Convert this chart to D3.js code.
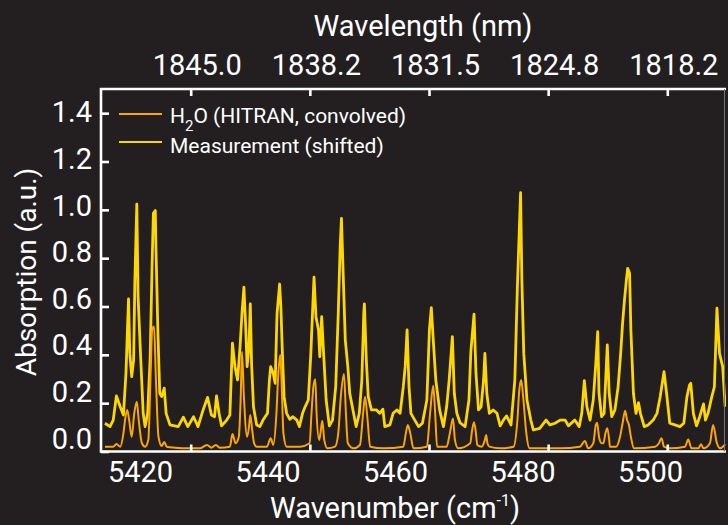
<!DOCTYPE html>
<html>
<head>
<meta charset="utf-8">
<script src="https://cdn.jsdelivr.net/npm/d3@7"></script>
<style>
  body { margin: 0; background: #231f20; }
  text { font-family: "Roboto", sans-serif; fill: #fff; }
</style>
</head>
<body>
<script>
// Measured spectrum (shifted), wavenumber in cm-1 and absorption in a.u.
var measWn = [
  5414.5,5415.3,5415.8,5416.3,5416.9,5417.4,5417.8,5418.2,5418.4,5418.7,
  5419.0,5419.2,5419.5,5419.7,5420.1,5420.5,5420.8,5421.2,5421.6,5421.9,
  5422.1,5422.4,5422.5,5422.8,5423.1,5423.4,5423.8,5424.1,5424.7,5426.0,
  5426.8,5427.5,5428.4,5429.1,5429.9,5430.6,5431.2,5431.7,5432.0,5432.4,
  5432.8,5433.6,5434.1,5434.5,5434.9,5435.3,5435.7,5436.0,5436.3,5436.6,
  5436.8,5437.1,5437.3,5437.5,5437.8,5438.3,5438.8,5439.3,5440.0,5440.3,
  5440.5,5440.9,5441.2,5441.5,5441.9,5442.1,5442.3,5442.6,5443.0,5443.5,
  5444.0,5444.6,5445.0,5445.5,5445.9,5446.4,5446.8,5447.1,5447.3,5447.6,
  5448.0,5448.2,5448.5,5448.8,5449.2,5449.7,5450.2,5450.7,5451.1,5451.4,
  5451.6,5451.9,5452.2,5452.6,5452.9,5453.5,5453.9,5454.4,5454.8,5455.1,
  5455.2,5455.5,5455.8,5456.3,5457.1,5457.6,5458.1,5458.4,5459.2,5459.7,
  5460.3,5460.8,5461.3,5461.6,5461.9,5462.2,5462.5,5463.1,5463.7,5464.3,
  5465.0,5465.4,5465.7,5466.0,5466.4,5467.0,5467.6,5468.1,5468.5,5469.0,
  5469.3,5469.7,5470.2,5471.0,5471.6,5471.9,5472.4,5472.7,5473.1,5473.5,
  5473.9,5474.1,5474.4,5474.8,5475.4,5476.0,5476.5,5477.0,5477.5,5478.2,
  5478.8,5479.2,5479.5,5479.7,5479.9,5480.2,5480.7,5481.3,5481.7,5482.7,
  5483.7,5484.3,5485.1,5485.9,5486.7,5487.2,5488.2,5488.9,5489.3,5489.7,
  5490.1,5490.6,5491.1,5491.5,5491.8,5492.0,5492.4,5492.8,5493.1,5493.3,
  5493.6,5494.0,5494.5,5495.0,5495.4,5495.7,5496.0,5496.3,5496.5,5496.8,
  5497.0,5497.4,5497.8,5498.2,5498.5,5499.1,5499.7,5500.5,5501.1,5501.6,
  5502.2,5502.6,5503.1,5503.9,5504.7,5505.3,5505.8,5506.2,5506.4,5506.8,
  5507.3,5507.8,5508.4,5508.7,5509.1,5509.7,5510.1,5510.5,5510.9,5511.4,5511.8
];
var measAbs = [
  0.117,0.103,0.130,0.230,0.185,0.151,0.324,0.631,0.406,0.310,
  0.379,0.710,1.024,0.641,0.392,0.158,0.103,0.158,0.392,0.779,
  0.986,0.997,0.848,0.503,0.241,0.227,0.262,0.158,0.110,0.103,
  0.142,0.103,0.144,0.103,0.172,0.224,0.151,0.144,0.230,0.158,
  0.106,0.130,0.151,0.448,0.351,0.296,0.434,0.572,0.680,0.503,
  0.351,0.434,0.611,0.365,0.185,0.110,0.103,0.130,0.158,0.296,
  0.351,0.324,0.282,0.572,0.693,0.599,0.434,0.227,0.158,0.133,
  0.144,0.130,0.103,0.158,0.185,0.213,0.406,0.599,0.721,0.558,
  0.503,0.392,0.558,0.406,0.213,0.106,0.130,0.268,0.572,0.848,
  0.965,0.710,0.462,0.351,0.241,0.158,0.103,0.158,0.296,0.572,
  0.611,0.379,0.227,0.172,0.172,0.158,0.175,0.103,0.110,0.158,
  0.172,0.158,0.268,0.351,0.503,0.268,0.158,0.130,0.103,0.117,
  0.213,0.503,0.595,0.462,0.296,0.172,0.103,0.185,0.296,0.475,
  0.241,0.158,0.119,0.103,0.213,0.413,0.568,0.324,0.172,0.185,
  0.296,0.406,0.241,0.158,0.172,0.158,0.106,0.130,0.147,0.110,
  0.296,0.682,0.917,1.071,0.710,0.406,0.213,0.130,0.089,0.096,
  0.130,0.110,0.117,0.130,0.130,0.106,0.130,0.103,0.158,0.293,
  0.185,0.130,0.213,0.365,0.496,0.241,0.144,0.158,0.324,0.441,
  0.241,0.144,0.172,0.268,0.406,0.531,0.627,0.710,0.758,0.738,
  0.503,0.241,0.158,0.202,0.158,0.103,0.110,0.130,0.158,0.227,
  0.330,0.241,0.117,0.110,0.103,0.117,0.227,0.275,0.282,0.158,
  0.106,0.144,0.197,0.130,0.158,0.227,0.268,0.593,0.406,0.351,0.185
];

// HITRAN H2O spectrum (convolved)
var hitranWn = [
  5414.5,5415.8,5416.3,5416.9,5417.4,5417.7,5418.0,5418.3,5418.7,5419.1,
  5419.5,5419.8,5420.3,5420.8,5421.3,5421.7,5421.9,5422.2,5422.5,5422.9,
  5423.4,5423.8,5424.2,5425.5,5427.6,5429.4,5430.5,5431.2,5431.9,5432.5,
  5434.1,5434.5,5435.0,5435.5,5435.8,5436.0,5436.3,5436.8,5437.1,5437.3,
  5437.6,5437.9,5438.3,5439.9,5440.5,5440.9,5441.4,5441.7,5442.0,5442.2,
  5442.5,5443.0,5445.1,5446.6,5446.9,5447.2,5447.5,5447.7,5448.1,5448.3,
  5448.6,5448.9,5449.4,5450.6,5451.1,5451.5,5452.0,5452.3,5452.6,5453.5,
  5454.5,5455.0,5455.3,5455.7,5456.1,5458.2,5461.3,5461.7,5462.0,5462.4,
  5462.9,5465.0,5465.5,5466.0,5466.3,5466.6,5468.1,5468.6,5469.1,5469.4,
  5469.9,5471.8,5472.1,5472.4,5472.7,5472.9,5473.6,5474.1,5474.3,5474.5,
  5474.8,5476.5,5478.6,5479.2,5479.5,5479.8,5480.1,5480.6,5481.1,5485.9,
  5489.0,5489.8,5490.3,5491.1,5491.5,5491.7,5492.0,5492.4,5492.7,5493.0,
  5493.3,5493.6,5493.7,5494.7,5495.3,5495.7,5496.1,5496.4,5496.7,5497.0,
  5497.5,5500.8,5501.4,5501.8,5502.2,5503.1,5505.5,5506.0,5506.5,5507.6,
  5508.0,5508.4,5509.4,5509.9,5510.5,5511.0,5511.8
];
var hitranAbs = [
  0.020,0.020,0.031,0.020,0.075,0.139,0.172,0.130,0.061,0.158,
  0.206,0.130,0.034,0.020,0.048,0.351,0.503,0.517,0.296,0.061,
  0.023,0.039,0.020,0.016,0.013,0.013,0.027,0.016,0.027,0.016,
  0.020,0.072,0.034,0.061,0.227,0.413,0.227,0.061,0.103,0.151,
  0.089,0.034,0.020,0.020,0.055,0.027,0.158,0.324,0.399,0.296,
  0.075,0.020,0.020,0.034,0.158,0.268,0.299,0.158,0.048,0.075,
  0.127,0.048,0.013,0.020,0.075,0.227,0.321,0.158,0.034,0.013,
  0.027,0.158,0.227,0.130,0.020,0.013,0.020,0.075,0.110,0.075,
  0.013,0.020,0.158,0.272,0.158,0.020,0.020,0.075,0.137,0.048,
  0.013,0.034,0.089,0.121,0.075,0.027,0.020,0.048,0.068,0.034,
  0.020,0.013,0.020,0.130,0.255,0.296,0.227,0.075,0.013,0.013,
  0.020,0.043,0.013,0.034,0.110,0.119,0.061,0.034,0.034,0.075,
  0.096,0.048,0.020,0.020,0.061,0.117,0.169,0.130,0.110,0.061,
  0.013,0.020,0.034,0.055,0.020,0.013,0.020,0.050,0.013,0.013,
  0.030,0.013,0.034,0.110,0.034,0.013,0.030
];

var wnTicks = [5420, 5440, 5460, 5480, 5500];
var absTicks = [0, 0.2, 0.4, 0.6, 0.8, 1.0, 1.2, 1.4];
var seriesNames = ["HITRAN", "Measurement (shifted)"];

var margin = {top: 89, right: 2, bottom: 73.5, left: 101},
    width = 728 - margin.left - margin.right,
    height = 525 - margin.top - margin.bottom;

var svg = d3.select("body").append("svg")
    .attr("width", 728)
    .attr("height", 525);

svg.append("rect")
    .attr("width", 728).attr("height", 525)
    .attr("fill", "#231f20");

var g = svg.append("g")
    .attr("transform", "translate(" + margin.left + "," + margin.top + ")");

// wavenumber scale used by the data and the bottom labels
var x = d3.scaleLinear().domain([5420, 5500]).range([39, 549]);
// positions of the tick marks (top wavelength axis and bottom marks)
var xTick = d3.scaleLinear().domain([5420, 5500]).range([89.7, 566.3]);
var y = d3.scaleLinear().domain([0, 1.5]).range([height, 0]);
var yLabel = d3.scaleLinear().domain([0, 1.4]).range([350, 23.5]);

g.append("clipPath").attr("id", "plot-clip")
  .append("rect").attr("width", width).attr("height", height);

var line = d3.line()
    .x(function(d) { return x(d[0]); })
    .y(function(d) { return y(d[1]); });

g.append("path")
    .datum(d3.zip(measWn, measAbs))
    .attr("clip-path", "url(#plot-clip)")
    .attr("fill", "none")
    .attr("stroke", "#ffd700")
    .attr("stroke-width", 2.8)
    .attr("stroke-linejoin", "round")
    .attr("d", line);

g.append("path")
    .datum(d3.zip(hitranWn, hitranAbs))
    .attr("clip-path", "url(#plot-clip)")
    .attr("fill", "none")
    .attr("stroke", "#ffa500")
    .attr("stroke-width", 2)
    .attr("d", line.curve(d3.curveMonotoneX));

function styleAxis(sel) {
  sel.select(".domain").remove();
  sel.selectAll("line").attr("stroke", "#fff").attr("stroke-width", 2.6);
  sel.selectAll("text").style("font-size", "29px").attr("fill", "#fff");
}

// bottom: marks on xTick, labels on x
g.append("g")
    .attr("transform", "translate(0," + height + ")")
    .call(d3.axisBottom(xTick).tickValues(wnTicks).tickSize(-7).tickFormat(""))
    .call(styleAxis);

g.append("g")
    .attr("transform", "translate(0," + height + ")")
    .call(d3.axisBottom(x).tickValues(wnTicks).tickSize(0).tickFormat(d3.format("d")))
    .call(function(a) { a.selectAll("line").remove(); })
    .call(styleAxis)
    .call(function(a) { a.selectAll("text").attr("y", 30).attr("dy", null); });

// top: wavelength in nm
g.append("g")
    .call(d3.axisTop(xTick).tickValues(wnTicks).tickSize(-7)
      .tickFormat(function(d) { return (1e7 / d).toFixed(1); }))
    .call(styleAxis)
    .call(function(a) { a.selectAll("text").attr("y", -14).attr("dx", 6); });

// left: marks on y, labels on yLabel
g.append("g")
    .call(d3.axisLeft(y).tickValues(absTicks).tickSize(-8).tickFormat(""))
    .call(styleAxis);

g.append("g")
    .call(d3.axisLeft(yLabel).tickValues(absTicks).tickSize(0).tickFormat(d3.format(".1f")))
    .call(function(a) { a.selectAll("line").remove(); })
    .call(styleAxis)
    .call(function(a) { a.selectAll("text").attr("x", -9); });

// frame
g.append("path")
    .attr("d", "M" + width + ",0H0V" + height + "H" + width)
    .attr("fill", "none")
    .attr("stroke", "#fff")
    .attr("stroke-width", 2.6);

g.append("line")
    .attr("x1", width - 1.5).attr("x2", width - 1.5)
    .attr("y1", 0).attr("y2", height)
    .attr("stroke", "#777").attr("stroke-width", 1);

// axis titles
svg.append("text")
    .attr("x", 423).attr("y", 36)
    .attr("text-anchor", "middle")
    .style("font-size", "29px")
    .text("Wavelength (nm)");

var xt = svg.append("text")
    .attr("x", 395).attr("y", 518)
    .attr("text-anchor", "middle")
    .style("font-size", "29px");
xt.append("tspan").text("Wavenumber (cm");
xt.append("tspan").attr("dy", -12).style("font-size", "16px").text("-1");
xt.append("tspan").attr("dy", 12).text(")");

svg.append("text")
    .attr("transform", "translate(36,272) rotate(-90)")
    .attr("text-anchor", "middle")
    .style("font-size", "28px")
    .text("Absorption (a.u.)");

// legend
var legend = svg.append("g").attr("transform", "translate(119,0)");
legend.append("line")
    .attr("x1", 0).attr("x2", 43).attr("y1", 114).attr("y2", 114)
    .attr("stroke", "#ffa500").attr("stroke-width", 2);
legend.append("line")
    .attr("x1", 0).attr("x2", 43).attr("y1", 142).attr("y2", 142)
    .attr("stroke", "#ffd700").attr("stroke-width", 2);

var l1 = legend.append("text").attr("x", 51).attr("y", 123).style("font-size", "21px");
l1.append("tspan").text("H");
l1.append("tspan").attr("dy", 8).style("font-size", "15px").text("2");
l1.append("tspan").attr("dy", -8).text("O (" + seriesNames[0] + ", convolved)");

legend.append("text").attr("x", 51).attr("y", 153).style("font-size", "21px")
    .text(seriesNames[1]);
</script>
</body>
</html>
